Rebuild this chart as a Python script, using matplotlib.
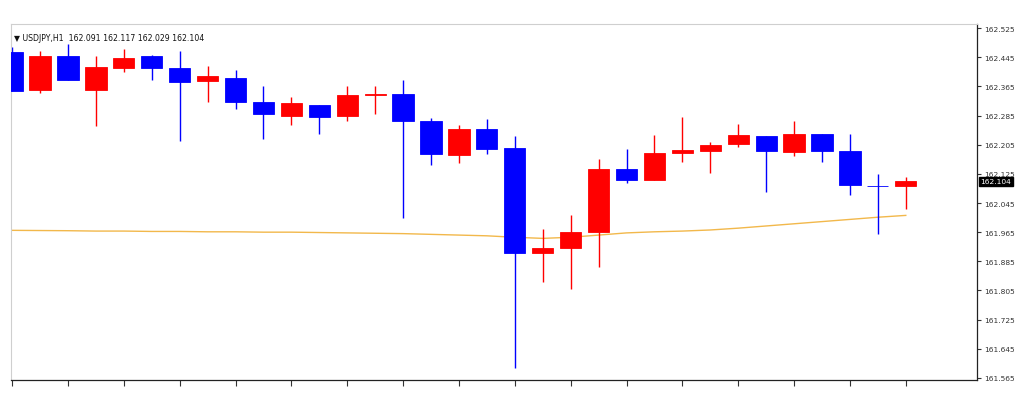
import matplotlib
matplotlib.use("Agg")
import matplotlib.pyplot as plt
import numpy as np

symbol_label = "USDJPY,H1"
last_ohlc = ["162.091", "162.117", "162.029", "162.104"]

opens = [162.459, 162.355, 162.447, 162.355, 162.416, 162.447, 162.415, 162.381,
         162.389, 162.323, 162.285, 162.315, 162.285, 162.341, 162.344, 162.271,
         162.178, 162.249, 162.197, 161.907, 161.921, 161.966, 162.139, 162.107,
         162.182, 162.189, 162.206, 162.230, 162.185, 162.233, 162.189, 162.093,
         162.091]
highs = [162.473, 162.463, 162.480, 162.447, 162.468, 162.451, 162.463, 162.420,
         162.411, 162.367, 162.335, 162.315, 162.367, 162.367, 162.382, 162.279,
         162.258, 162.275, 162.230, 161.975, 162.012, 162.167, 162.194, 162.232,
         162.282, 162.212, 162.262, 162.230, 162.269, 162.233, 162.235, 162.124,
         162.117]
lows = [162.353, 162.347, 162.383, 162.255, 162.405, 162.383, 162.214, 162.322,
        162.303, 162.221, 162.258, 162.235, 162.271, 162.290, 162.005, 162.148,
        162.155, 162.180, 161.592, 161.828, 161.808, 161.869, 162.100, 162.107,
        162.158, 162.128, 162.199, 162.076, 162.174, 162.158, 162.068, 161.959,
        162.029]
closes = [162.353, 162.447, 162.383, 162.418, 162.444, 162.414, 162.376, 162.392,
          162.322, 162.288, 162.319, 162.282, 162.340, 162.343, 162.271, 162.180,
          162.249, 162.194, 161.909, 161.921, 161.966, 162.139, 162.107, 162.182,
          162.191, 162.205, 162.232, 162.188, 162.235, 162.188, 162.094, 162.091,
          162.104]
ma_values = [161.970, 161.9695, 161.969, 161.968, 161.968, 161.967, 161.967, 161.966,
             161.966, 161.965, 161.965, 161.964, 161.963, 161.962, 161.961, 161.959,
             161.957, 161.955, 161.951, 161.948, 161.951, 161.957, 161.963, 161.966,
             161.968, 161.971, 161.976, 161.982, 161.988, 161.994, 162.000, 162.006,
             162.011]
ytick_values = [161.565, 161.645, 161.725, 161.805, 161.885, 161.965, 162.045,
                162.125, 162.205, 162.285, 162.365, 162.445, 162.525]
current_price = 162.104

UP = "#ff0000"
DOWN = "#0000ff"

fig = plt.figure(figsize=(10.24, 4.02), dpi=100)
ax = fig.add_axes([11 / 1024, 1 - 381 / 402, (977 - 11) / 1024, (381 - 25) / 402])

x = np.arange(len(opens))
o = np.array(opens); c = np.array(closes); h = np.array(highs); l = np.array(lows)
colors = [UP if cc > oo else DOWN for oo, cc in zip(o, c)]

ax.vlines(x, l, h, colors=colors, linewidth=1.0, zorder=2)
bottoms = np.minimum(o, c)
heights = np.maximum(np.abs(c - o), 0.0012)
ax.bar(x, heights, bottom=bottoms, width=0.76, color=colors, edgecolor=colors,
       linewidth=0.6, zorder=3)

ax.plot(x, ma_values, color="#f2b84b", linewidth=1.0, zorder=1.5)

ax.set_xlim(-0.04, 34.55)
ax.set_ylim(161.5595, 162.536)

ax.yaxis.tick_right()
ax.set_yticks(ytick_values)
ax.set_yticklabels([f"{v:.3f}" for v in ytick_values], fontsize=5.4, color="#333333")
ax.tick_params(axis="y", direction="out", length=3, width=0.8, pad=2, colors="#333333")
ax.set_xticks(x[::2])
ax.set_xticklabels([])
ax.tick_params(axis="x", direction="out", length=4, width=0.8, colors="#333333")

for side in ["left", "top"]:
    ax.spines[side].set_color("#cfcfcf")
    ax.spines[side].set_linewidth(0.8)
for side in ["right", "bottom"]:
    ax.spines[side].set_color("#222222")
    ax.spines[side].set_linewidth(0.9)

ax.text(0.003, 0.976, "\u25bc " + symbol_label + "  " + " ".join(last_ohlc),
        transform=ax.transAxes, fontsize=5.6, color="#111111", va="top", ha="left")

ax.annotate(f"{current_price:.3f}", xy=(1.0, current_price),
            xycoords=("axes fraction", "data"), xytext=(2.5, 0), textcoords="offset points",
            fontsize=5.4, color="white", va="center", ha="left",
            bbox=dict(boxstyle="square,pad=0.2", fc="black", ec="black"), zorder=10)

fig.savefig("out.png", dpi=100, facecolor="white")
